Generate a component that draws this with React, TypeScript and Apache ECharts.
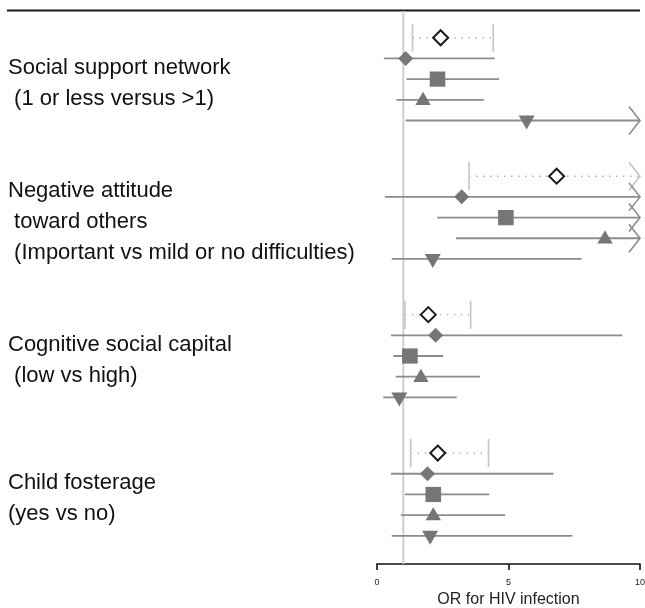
import React, { useEffect, useRef } from "react";
import * as echarts from "echarts";

// ---- Data ----
const GROUP_LABELS: string[][] = [
  ["Social support network", " (1 or less versus >1)"],
  ["Negative attitude", " toward others", " (Important vs mild or no difficulties)"],
  ["Cognitive social capital", " (low vs high)"],
  ["Child fosterage", "(yes vs no)"],
];

// Upper limits that run past the axis (drawn with an arrow) are entered as 12.
const POOLED_OR = [2.42, 6.83, 1.95, 2.31];
const POOLED_LO = [1.35, 3.5, 1.06, 1.28];
const POOLED_HI = [4.42, 12, 3.56, 4.24];

const DIAMOND_OR = [1.09, 3.22, 2.23, 1.92];
const DIAMOND_LO = [0.26, 0.3, 0.53, 0.53];
const DIAMOND_HI = [4.48, 12, 9.33, 6.71];

const SQUARE_OR = [2.3, 4.9, 1.25, 2.14];
const SQUARE_LO = [1.12, 2.29, 0.62, 1.06];
const SQUARE_HI = [4.64, 12, 2.52, 4.27];

const TRIANGLE_OR = [1.75, 8.67, 1.67, 2.14];
const TRIANGLE_LO = [0.74, 3.0, 0.71, 0.91];
const TRIANGLE_HI = [4.06, 12, 3.92, 4.87];

const TRIDOWN_OR = [5.69, 2.12, 0.85, 2.02];
const TRIDOWN_LO = [1.09, 0.56, 0.24, 0.56];
const TRIDOWN_HI = [12, 7.78, 3.03, 7.43];

const X_TICKS = [0, 5, 10];
const REF_OR = 1;
const X_TITLE = "OR for HIV infection";

// ---- Layout / style ----
const GROUP_STEP = 6.69;
const Y_MIN = -1.34;
const Y_MAX = 25.43;
const FONT = '"Liberation Sans", Arial, Helvetica, sans-serif';
const MARKER = "#767676";
const LINE = "#8c8c8c";
const LIGHT = "#c4c4c4";
const DOTS = "#acacac";

const ESTIMATES = [
  { shape: "open", or: POOLED_OR, lo: POOLED_LO, hi: POOLED_HI },
  { shape: "diamond", or: DIAMOND_OR, lo: DIAMOND_LO, hi: DIAMOND_HI },
  { shape: "square", or: SQUARE_OR, lo: SQUARE_LO, hi: SQUARE_HI },
  { shape: "up", or: TRIANGLE_OR, lo: TRIANGLE_LO, hi: TRIANGLE_HI },
  { shape: "down", or: TRIDOWN_OR, lo: TRIDOWN_LO, hi: TRIDOWN_HI },
];

function markerFor(shape: string, x: number, y: number): any {
  switch (shape) {
    case "open":
      return {
        type: "polygon",
        shape: { points: [[x, y - 7.5], [x + 7.5, y], [x, y + 7.5], [x - 7.5, y]] },
        style: { fill: "#fff", stroke: "#1a1a1a", lineWidth: 2 },
      };
    case "diamond":
      return {
        type: "polygon",
        shape: { points: [[x, y - 7.5], [x + 7.5, y], [x, y + 7.5], [x - 7.5, y]] },
        style: { fill: MARKER },
      };
    case "square":
      return {
        type: "rect",
        shape: { x: x - 7.8, y: y - 7.6, width: 15.6, height: 15.2 },
        style: { fill: MARKER },
      };
    case "up":
      return {
        type: "polygon",
        shape: { points: [[x, y - 8], [x + 7.7, y + 5.2], [x - 7.7, y + 5.2]] },
        style: { fill: MARKER },
      };
    default:
      return {
        type: "polygon",
        shape: { points: [[x - 8, y - 5], [x + 8, y - 5], [x, y + 9]] },
        style: { fill: MARKER },
      };
  }
}

export default function App() {
  const ref = useRef<HTMLDivElement>(null);
  useEffect(() => {
    if (!ref.current) return;
    const chart = echarts.init(ref.current, null, { renderer: "svg" });
    const xMax = X_TICKS[X_TICKS.length - 1];

    const estimateSeries = ESTIMATES.map((est, k) => ({
      type: "custom",
      z: 3,
      encode: { x: [0, 1, 2], y: 3 },
      data: est.or.map((v, g) => [v, est.lo[g], est.hi[g], g * GROUP_STEP + k]),
      renderItem: (params: any, api: any) => {
        const o = api.value(0);
        const lo = api.value(1);
        const hi = api.value(2);
        const yv = api.value(3);
        const beyond = hi > xMax;
        const pE = api.coord([o, yv]);
        const pL = api.coord([lo, yv]);
        const pH = api.coord([Math.min(hi, xMax), yv]);
        const y = pE[1];
        const pooled = est.shape === "open";
        const children: any[] = [];
        if (pooled) {
          children.push({
            type: "line",
            shape: { x1: pL[0], y1: y, x2: pH[0], y2: y },
            style: { stroke: DOTS, lineWidth: 1.4, lineDash: [1.4, 5.6] },
          });
          children.push({
            type: "line",
            shape: { x1: pL[0], y1: y - 14, x2: pL[0], y2: y + 14 },
            style: { stroke: LIGHT, lineWidth: 1.6 },
          });
          if (!beyond) {
            children.push({
              type: "line",
              shape: { x1: pH[0], y1: y - 14, x2: pH[0], y2: y + 14 },
              style: { stroke: LIGHT, lineWidth: 1.6 },
            });
          }
        } else {
          children.push({
            type: "line",
            shape: { x1: pL[0], y1: y, x2: pH[0], y2: y },
            style: { stroke: LINE, lineWidth: 1.8 },
          });
        }
        if (beyond) {
          children.push({
            type: "polyline",
            shape: { points: [[pH[0] - 11, y - 14], [pH[0], y], [pH[0] - 11, y + 14]] },
            style: { stroke: pooled ? LIGHT : LINE, lineWidth: 1.6, fill: "none" },
          });
        }
        children.push(markerFor(est.shape, pE[0], y));
        return { type: "group", children };
      },
    }));

    const option: any = {
      animation: false,
      grid: { left: 377, right: 5, top: 10, bottom: 44, outerBoundsMode: "none", containLabel: false },
      xAxis: {
        type: "value",
        min: X_TICKS[0],
        max: xMax,
        interval: X_TICKS[1] - X_TICKS[0],
        splitLine: { show: false },
        axisLine: { show: true, onZero: false, lineStyle: { color: "#111", width: 1.6 } },
        axisTick: { show: true, length: 6, lineStyle: { color: "#111", width: 1.6 } },
        axisLabel: { fontSize: 9, color: "#222", margin: 13, fontFamily: FONT },
        name: X_TITLE,
        nameLocation: "middle",
        nameGap: 24,
        nameTextStyle: { fontSize: 16, color: "#222", fontFamily: FONT },
      },
      yAxis: { type: "value", min: Y_MIN, max: Y_MAX, inverse: true, show: false },
      graphic: [
        {
          type: "line",
          shape: { x1: 7, y1: 10.5, x2: 640, y2: 10.5 },
          style: { stroke: "#1a1a1a", lineWidth: 2 },
        },
      ],
      series: [
        {
          type: "custom",
          z: 1,
          encode: { x: 0, y: 1 },
          data: [[REF_OR, 0]],
          renderItem: (params: any, api: any) => {
            const x = api.coord([api.value(0), 0])[0];
            const cs = params.coordSys;
            return {
              type: "line",
              shape: { x1: x, y1: cs.y + 1, x2: x, y2: cs.y + cs.height },
              style: { stroke: "#cfcfcf", lineWidth: 2 },
            };
          },
        },
        ...estimateSeries,
        {
          type: "custom",
          z: 2,
          encode: { x: 0, y: 1 },
          data: GROUP_LABELS.map((_, g) => [0, g * GROUP_STEP + 2, g]),
          renderItem: (params: any, api: any) => {
            const p = api.coord([0, api.value(1)]);
            const lines = GROUP_LABELS[api.value(2)];
            return {
              type: "text",
              style: {
                x: 8,
                y: p[1] + 3,
                text: lines.map((s) => s.replace(/^ /, "\u00a0")).join("\n"),
                fill: "#111",
                fontSize: 22,
                fontFamily: FONT,
                lineHeight: 31,
                align: "left",
                verticalAlign: "middle",
              },
            };
          },
        },
      ],
    };
    chart.setOption(option);
    return () => chart.dispose();
  }, []);
  return (
    <div
      ref={ref}
      style={{ position: "fixed", left: 0, top: 0, width: 645, height: 608 }}
    />
  );
}
